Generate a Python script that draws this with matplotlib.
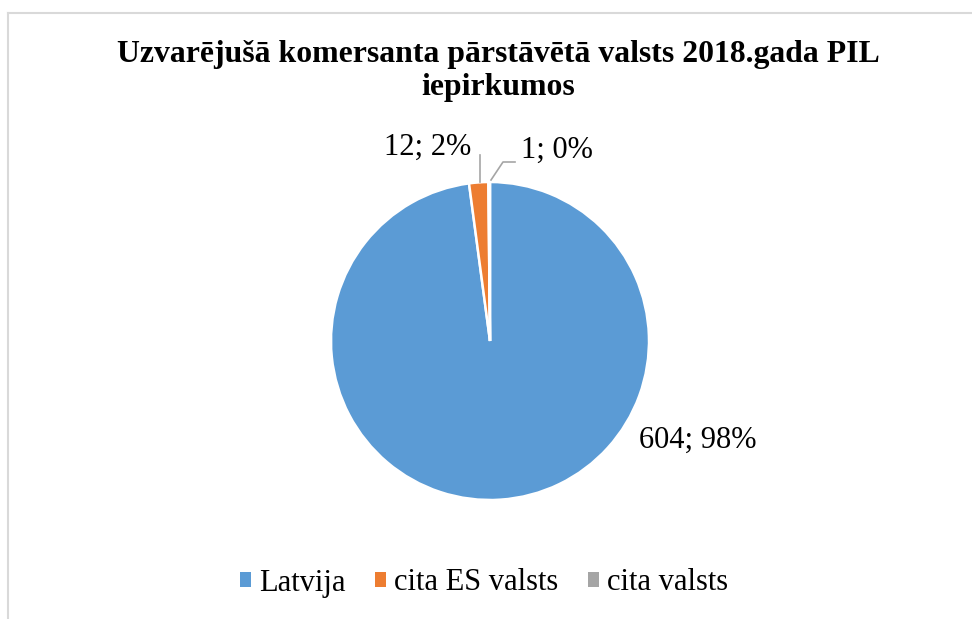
import matplotlib
matplotlib.use("Agg")
import matplotlib.pyplot as plt
from matplotlib.lines import Line2D
from matplotlib.patches import Patch
import numpy as np

categories = ["Latvija", "cita ES valsts", "cita valsts"]
values = [604, 12, 1]
labels = ["604; 98%", "12; 2%", "1; 0%"]
colors = ["#5B9BD5", "#ED7D31", "#A5A5A5"]
title_lines = ["Uzvarējušā komersanta pārstāvētā valsts 2018.gada PIL", "iepirkumos"]

plt.rcParams['font.family'] = ['Liberation Serif', 'DejaVu Serif']

W, H = 972, 619
fig = plt.figure(figsize=(W / 100, H / 100), dpi=100)

# chart border (top and left visible)
fig.add_artist(Line2D([8 / W, 8 / W], [0, 1 - 12.5 / H], color="#D9D9D9", lw=1.5,
                      transform=fig.transFigure))
fig.add_artist(Line2D([8 / W, 1], [1 - 12.5 / H, 1 - 12.5 / H], color="#D9D9D9", lw=1.5,
                      transform=fig.transFigure))

cx, cy, R = 490, 341, 159
half = 250
ax = fig.add_axes([(cx - half) / W, (H - cy - half) / H, 2 * half / W, 2 * half / H])
lim = half / R

wedges, _ = ax.pie(values, colors=colors, startangle=90, counterclock=False,
                   wedgeprops=dict(edgecolor='white', linewidth=1.8), radius=1.0,
                   center=(0, 0))
ax.set_xlim(-lim, lim)
ax.set_ylim(-lim, lim)
ax.set_aspect('equal')
ax.axis('off')

fs = 22
# Large slice label
ax.text(208 / R, -99 / R, labels[0], ha='center', va='center', fontsize=fs)

# cita ES valsts label with leader
ax.plot([-10 / R, -10 / R], [159 / R, 186 / R], color="#A5A5A5", lw=1.2)
ax.text(-19 / R, 194 / R, labels[1], ha='right', va='center', fontsize=fs)

# cita valsts label with leader
ax.plot([1 / R, 13 / R, 25 / R], [161 / R, 179 / R, 179 / R], color="#A5A5A5", lw=1.2)
ax.text(31 / R, 191 / R, labels[2], ha='left', va='center', fontsize=fs)

for line, yb in zip(title_lines, [62, 95]):
    fig.text(498 / W, 1 - yb / H, line, ha='center', va='baseline', fontsize=22.85,
             fontweight='bold')

handles = [Patch(facecolor=c, edgecolor='none') for c in colors]
fig.legend(handles, categories, loc='center', bbox_to_anchor=(484 / W, 1 - 583 / H),
           ncol=3, frameon=False, fontsize=fs, handlelength=0.36, handleheight=0.36,
           handletextpad=0.28, columnspacing=0.95, borderpad=0)

fig.savefig("out.png", dpi=100)
